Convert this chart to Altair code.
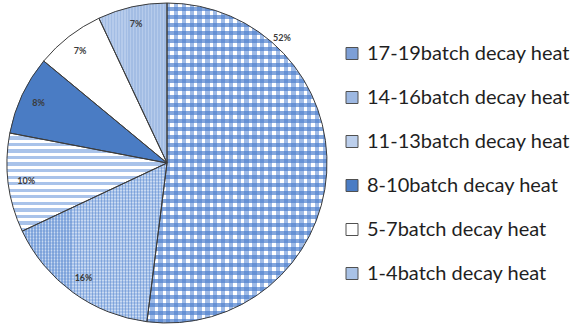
import math
import altair as alt
import pandas as pd

# --- chart data -------------------------------------------------------------
categories = [
    "17-19batch decay heat",
    "14-16batch decay heat",
    "11-13batch decay heat",
    "8-10batch decay heat",
    "5-7batch decay heat",
    "1-4batch decay heat",
]
shares = [52, 16, 10, 8, 7, 7]
share_labels = ["52%", "16%", "10%", "8%", "7%", "7%"]

# legend swatch colours (average tone of each fill pattern)
swatch_colors = ["#7d9fd6", "#9db8e2", "#bccfec", "#4a7cc4", "#ffffff", "#a9c2e6"]

W, H = 334, 326
R = 160

df = pd.DataFrame({"category": categories, "share": shares, "label": share_labels})
df["end"] = df["share"].cumsum()
df["start"] = df["end"] - df["share"]
df["mid"] = (df["start"] + df["end"]) / 2

theta_scale = alt.Scale(domain=[0, 100], range=[0, 2 * math.pi])


def sector_extent(start, end):
    """Pixel width/height of a pie sector's bounding box."""
    pts = [(0.0, 0.0)]
    steps = 200
    for k in range(steps + 1):
        a = 2 * math.pi * (start + (end - start) * k / steps) / 100
        pts.append((R * math.sin(a), -R * math.cos(a)))
    xs = [p[0] for p in pts]
    ys = [p[1] for p in pts]
    return max(xs) - min(xs), max(ys) - min(ys)


def stripes(c1, c2, length_px, period_px, duty=0.5, vertical=True):
    """Hard-edged linear gradient that renders as parallel stripes."""
    n = max(1, round(length_px / period_px))
    stops = []
    for i in range(n):
        a, b, c = i / n, (i + duty) / n, (i + 1) / n
        stops += [
            alt.GradientStop(color=c1, offset=a),
            alt.GradientStop(color=c1, offset=b),
            alt.GradientStop(color=c2, offset=b),
            alt.GradientStop(color=c2, offset=c),
        ]
    if vertical:
        return alt.LinearGradient(gradient="linear", stops=stops, x1=0, y1=0, x2=1, y2=0)
    return alt.LinearGradient(gradient="linear", stops=stops, x1=0, y1=0, x2=0, y2=1)


base = alt.Chart(df)
arc_enc = dict(
    theta=alt.Theta("start:Q", scale=theta_scale),
    theta2="end:Q",
)

# hidden layer that carries the legend
legend_layer = base.mark_arc(outerRadius=R).encode(
    **arc_enc,
    color=alt.Color(
        "category:N",
        sort=categories,
        scale=alt.Scale(domain=categories, range=swatch_colors),
        legend=alt.Legend(title=None),
    ),
)


def slice_layer(idx, fill):
    return (
        base.transform_filter(alt.datum.category == categories[idx])
        .mark_arc(outerRadius=R, fill=fill, strokeWidth=0)
        .encode(**arc_enc)
    )


ext = [sector_extent(s, e) for s, e in zip(df["start"], df["end"])]

fills = [
    # 17-19: blue dot grid = vertical + horizontal translucent stripes
    stripes("#ffffff", "#9fbbe7", ext[0][0], 8, duty=0.45, vertical=True),
    # 14-16: fine woven texture
    stripes("#8fb0e0", "#c9daf2", ext[1][0], 3, vertical=True),
    # 11-13: light blue horizontal waves
    stripes("#ffffff", "#a9c3ea", ext[2][1], 6.5, duty=0.5, vertical=False),
    # 8-10: solid blue
    "#4a7cc4",
    # 5-7: white
    "#ffffff",
    # 1-4: light blue with fine vertical lines
    stripes("#a3bde4", "#b6cbeb", ext[5][0], 3, vertical=True),
]
layers = [legend_layer] + [slice_layer(i, f) for i, f in enumerate(fills)]

# second direction of the dot grid
layers.append(
    slice_layer(0, stripes("rgba(74,125,204,0)", "rgba(74,125,204,0.68)", ext[0][1], 8, duty=0.45, vertical=False))
)
# second direction of the woven texture
layers.append(
    slice_layer(1, stripes("rgba(74,125,204,0)", "rgba(74,125,204,0.25)", ext[1][1], 3, vertical=False))
)

# slice outlines
layers.append(
    base.mark_arc(outerRadius=R, fillOpacity=0, stroke="#3c3c3c", strokeWidth=1).encode(**arc_enc)
)

# percentage labels inside the slices
label_font = dict(font="Lato", fontSize=9, fontWeight="bold", color="#3a3a3a")
layers.append(
    base.transform_filter(alt.datum.share < 50)
    .mark_text(radius=142, **label_font)
    .encode(theta=alt.Theta("mid:Q", scale=theta_scale), text="label:N")
)
# the large slice's label sits just outside the rim
layers.append(
    base.transform_filter(alt.datum.share >= 50)
    .mark_text(radius=170, **label_font)
    .encode(theta=alt.value(math.radians(42.5)), text="label:N")
)

chart = (
    alt.layer(*layers)
    .properties(width=W, height=H, padding=0, autosize=alt.AutoSizeParams(type="pad"))
    .configure_view(stroke=None)
    .configure_legend(
        orient="none",
        legendX=342,
        legendY=43.5,
        padding=0,
        symbolType="square",
        symbolSize=144,
        symbolStrokeColor="#505050",
        symbolStrokeWidth=1,
        symbolOpacity=1,
        labelFont="Lato",
        labelFontSize=20,
        labelColor="#1f1f1f",
        labelOffset=5,
        labelLimit=0,
        rowPadding=24,
    )
)

chart.save("out.html", embed_options={"renderer": "svg", "actions": False})
